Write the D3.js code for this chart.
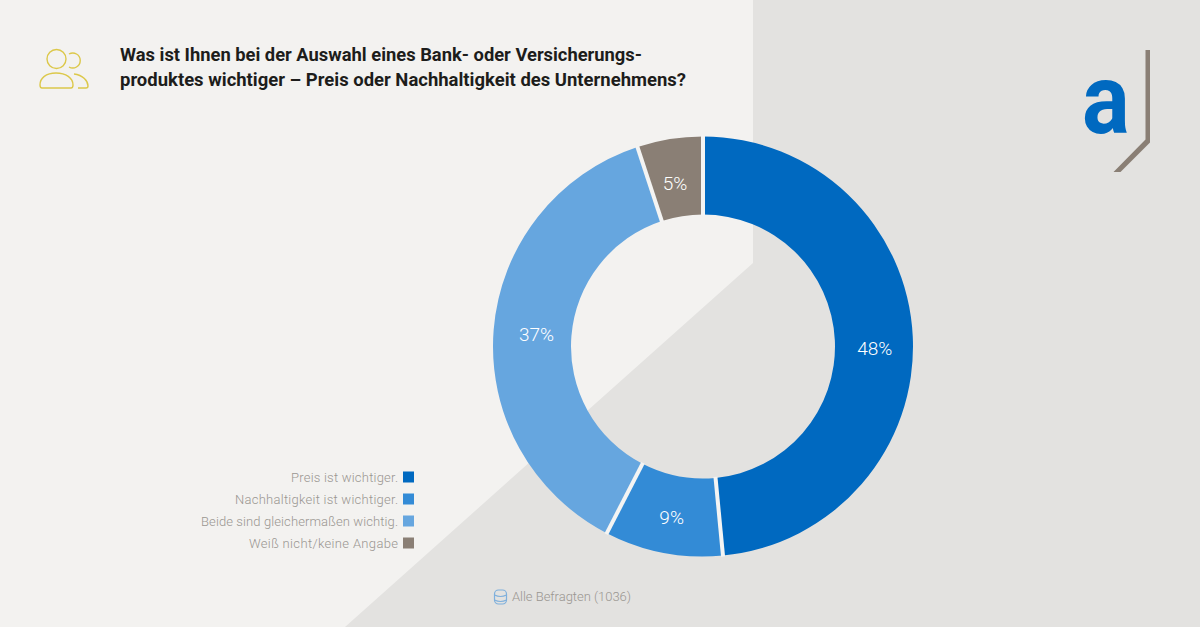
<!DOCTYPE html>
<html lang="de">
<head>
<meta charset="UTF-8">
<title>Preis oder Nachhaltigkeit</title>
<script src="https://cdnjs.cloudflare.com/ajax/libs/d3/7.8.5/d3.min.js"></script>
<style>
  html, body { margin: 0; padding: 0; background: #f3f2f0; }
  svg { display: block; font-family: Roboto, sans-serif; }
  .title { font-size: 18px; font-weight: 700; fill: #1d1d1b; }
  .legend-label { font-size: 13px; font-weight: 300; fill: #9a9691; text-anchor: end; }
  .slice-label { font-size: 19px; font-weight: 300; fill: #fff; text-anchor: middle; }
  .base { font-size: 13px; font-weight: 300; fill: #9a9691; }
</style>
</head>
<body>
<svg id="chart" width="1200" height="627"></svg>
<script>
const categories = ["Preis ist wichtiger.", "Nachhaltigkeit ist wichtiger.", "Beide sind gleichermaßen wichtig.", "Weiß nicht/keine Angabe"];
const values = [48, 9, 37, 5];
const colors = ["#0069c0", "#338bd6", "#66a6df", "#8a7f75"];
const titleLines = ["Was ist Ihnen bei der Auswahl eines Bank- oder Versicherungs-", "produktes wichtiger – Preis oder Nachhaltigkeit des Unternehmens?"];
const titleWidths = [522, 566];
const legendWidths = [107, 163, 197, 149];
const baseLabel = "Alle Befragten (1036)";
// the labels do not sit exactly on the slice centres in the original
const labelNudge = [[1, 10], [1, 3], [4, 1], [-1, 6]];

const svg = d3.select("#chart");

// background, the darker part with the diagonal cut
svg.append("rect").attr("width", 1200).attr("height", 627).attr("fill", "#f3f2f0");
svg.append("path").attr("d", "M753,0H1200V627H345L753,263Z").attr("fill", "#e3e2e0");

// people icon
const icon = svg.append("g").attr("fill", "none").attr("stroke", "#dcc84a").attr("stroke-width", 1.4);
icon.append("circle").attr("cx", 56.5).attr("cy", 59).attr("r", 9.5);
icon.append("path").attr("d", "M69,54 A7.5,7.5 0 1 1 69,67");
icon.append("path").attr("d", "M40,85 C40,78 46,73 56,73 C66,73 73,78 73,85 Q73,88 71,88 H42 Q40,88 40,85Z");
icon.append("path").attr("d", "M74,74 C83,75 88,81 88,86 Q88,88 86,88 H78");

// title
svg.selectAll(".title").data(titleLines).join("text")
  .attr("class", "title")
  .attr("x", 120)
  .attr("y", (d, i) => 61 + i * 25)
  .attr("textLength", (d, i) => titleWidths[i])
  .attr("lengthAdjust", "spacingAndGlyphs")
  .text(d => d);

// logo
svg.append("text")
  .attr("transform", "translate(1082,133) scale(0.9,1)")
  .attr("font-weight", 700).attr("font-size", 99)
  .attr("fill", "#0069c0").text("a");
svg.append("path").attr("d", "M1145.5,50H1150V142.5L1120.5,172H1113.5L1145.5,139.5Z").attr("fill", "#8a7f75");

// donut
const cx = 703, cy = 346.5, innerR = 132, outerR = 210;
const pie = d3.pie().sort(null).value(d => d);
const arc = d3.arc().innerRadius(innerR).outerRadius(outerR);
const donut = svg.append("g").attr("transform", `translate(${cx},${cy})`);
const arcs = pie(values);
donut.selectAll("path.slice").data(arcs).join("path")
  .attr("class", "slice")
  .attr("d", arc)
  .attr("fill", (d, i) => colors[i]);
// separators only between the slices, no outline round the ring
donut.selectAll("line").data(arcs).join("line")
  .attr("x1", d => d3.pointRadial(d.startAngle, innerR - 1)[0])
  .attr("y1", d => d3.pointRadial(d.startAngle, innerR - 1)[1])
  .attr("x2", d => d3.pointRadial(d.startAngle, outerR + 1)[0])
  .attr("y2", d => d3.pointRadial(d.startAngle, outerR + 1)[1])
  .attr("stroke", "#f4f4f3")
  .attr("stroke-width", 4);
donut.selectAll("text").data(arcs).join("text")
  .attr("class", "slice-label")
  .attr("transform", (d, i) => {
    const c = arc.centroid(d);
    return `translate(${c[0] + labelNudge[i][0]},${c[1] + labelNudge[i][1]})`;
  })
  .attr("dy", "0.36em")
  .text(d => d.value + "%");

// legend
const legendY = d3.scalePoint().domain(categories).range([477, 543]);
const legend = svg.selectAll(".legend").data(categories).join("g")
  .attr("class", "legend")
  .attr("transform", d => `translate(0,${legendY(d)})`);
legend.append("text").attr("class", "legend-label").attr("x", 398).attr("dy", "0.35em")
  .attr("textLength", (d, i) => legendWidths[i])
  .attr("lengthAdjust", "spacing")
  .text(d => d);
legend.append("rect").attr("x", 403).attr("y", -5.5).attr("width", 11).attr("height", 11)
  .attr("fill", (d, i) => colors[i]);

// base note with database icon
const db = svg.append("g").attr("fill", "none").attr("stroke", "#7fb0dc").attr("stroke-width", 1.2);
db.append("rect").attr("x", 494.5).attr("y", 590).attr("width", 12).attr("height", 14).attr("rx", 4);
db.append("path").attr("d", "M494.5,595 Q500.5,598 506.5,595 M494.5,600 Q500.5,603 506.5,600");
svg.append("text").attr("class", "base").attr("x", 512).attr("y", 601)
  .attr("textLength", 119).attr("lengthAdjust", "spacing").text(baseLabel);
</script>
</body>
</html>
